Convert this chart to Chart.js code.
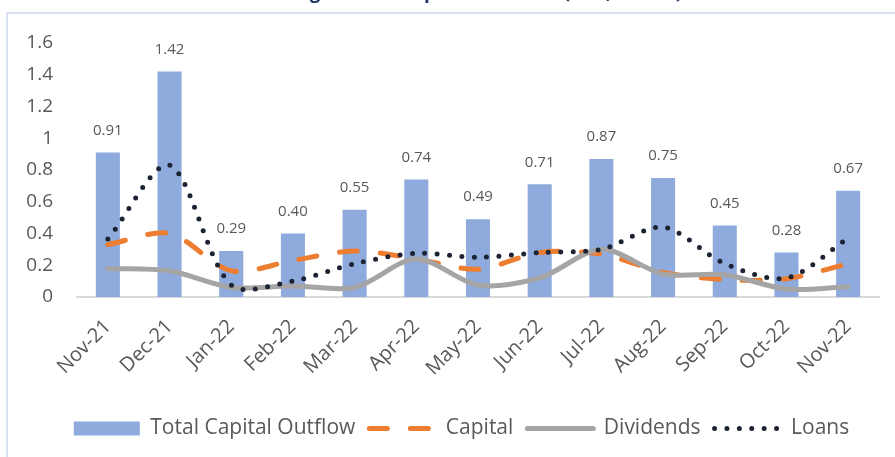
<!DOCTYPE html>
<html>
<head>
<meta charset="utf-8">
<script src="https://cdn.jsdelivr.net/npm/chart.js@4.4.0/dist/chart.umd.min.js"></script>
<style>
  body { margin: 0; background: #fff; }
</style>
</head>
<body>
<canvas id="chart-1" width="895" height="457"></canvas>
<script>
const months = ['Nov-21', 'Dec-21', 'Jan-22', 'Feb-22', 'Mar-22', 'Apr-22', 'May-22', 'Jun-22', 'Jul-22', 'Aug-22', 'Sep-22', 'Oct-22', 'Nov-22'];
const totalOutflow = [0.91, 1.42, 0.29, 0.40, 0.55, 0.74, 0.49, 0.71, 0.87, 0.75, 0.45, 0.28, 0.67];
const capital = [0.33, 0.40, 0.165, 0.23, 0.29, 0.24, 0.175, 0.28, 0.27, 0.155, 0.11, 0.115, 0.21];
const dividends = [0.18, 0.165, 0.06, 0.07, 0.06, 0.24, 0.075, 0.12, 0.30, 0.145, 0.14, 0.05, 0.065];
const loans = [0.365, 0.83, 0.075, 0.10, 0.21, 0.275, 0.25, 0.28, 0.30, 0.44, 0.21, 0.12, 0.37];
const yTicks = [0, 0.2, 0.4, 0.6, 0.8, 1, 1.2, 1.4, 1.6];
const titleText = 'Foreign Direct Capital Outflows (US$, billion)';

const font = '"Open Sans", "DejaVu Sans", sans-serif';
const grey = '#595959';

// frame + the cut-off title above it
const framePlugin = {
  id: 'frame',
  afterLayout(chart) {
    // legend sits a bit right of the canvas centre in the original
    chart.legend.left += 10;
    chart.legend.right += 10;
  },
  beforeDraw(chart) {
    const c = chart.ctx;
    c.save();
    c.fillStyle = '#dae3f3';
    c.fillRect(6, 12, chart.width - 6, 2);
    c.fillRect(6, 12, 2, chart.height - 12);
    c.fillStyle = '#203864';
    c.font = 'bold 19px ' + font;
    c.textAlign = 'center';
    c.textBaseline = 'alphabetic';
    c.fillText(titleText, 472, -2);
    c.restore();
  }
};

// value labels over the bars
const barLabels = {
  id: 'barLabels',
  afterDatasetsDraw(chart) {
    const c = chart.ctx;
    const meta = chart.getDatasetMeta(0);
    c.save();
    c.fillStyle = grey;
    c.font = '15px ' + font;
    c.textAlign = 'center';
    c.textBaseline = 'middle';
    meta.data.forEach((bar, i) => {
      c.fillText(totalOutflow[i].toFixed(2), bar.x, bar.y - 22);
    });
    c.restore();
  }
};

new Chart(document.getElementById('chart-1'), {
  type: 'bar',
  data: {
    labels: months,
    datasets: [
      {
        label: 'Total Capital Outflow',
        data: totalOutflow,
        backgroundColor: '#8faadc',
        borderWidth: 0,
        barPercentage: 0.39,
        categoryPercentage: 1,
        order: 4
      },
      {
        type: 'line',
        label: 'Capital',
        data: capital,
        borderColor: '#ed7d31',
        borderWidth: 5,
        borderDash: [18, 23],
        borderCapStyle: 'round',
        tension: 0.3,
        pointRadius: 0,
        order: 3
      },
      {
        type: 'line',
        label: 'Dividends',
        data: dividends,
        borderColor: '#a5a5a5',
        borderWidth: 5,
        borderCapStyle: 'round',
        tension: 0.3,
        pointRadius: 0,
        order: 2
      },
      {
        type: 'line',
        label: 'Loans',
        data: loans,
        borderColor: '#1c2434',
        borderWidth: 5,
        borderDash: [0, 12.4],
        borderCapStyle: 'round',
        tension: 0.3,
        pointRadius: 0,
        order: 1
      }
    ]
  },
  options: {
    responsive: false,
    animation: false,
    devicePixelRatio: 1,
    layout: { padding: { top: 43, left: 24, right: 16, bottom: 8 } },
    plugins: {
      tooltip: { enabled: false },
      legend: {
        position: 'bottom',
        labels: {
          usePointStyle: true,
          pointStyleWidth: 66,
          boxHeight: 14,
          padding: 14,
          color: grey,
          font: { family: font, size: 21 },
          generateLabels: chart => chart.data.datasets.map((ds, i) => ({
            text: ds.label,
            datasetIndex: i,
            fillStyle: ds.type === 'line' ? 'rgba(0,0,0,0)' : ds.backgroundColor,
            strokeStyle: ds.borderColor || ds.backgroundColor,
            lineWidth: ds.type === 'line' ? ds.borderWidth : 0,
            lineDash: ds.borderDash || [],
            lineCap: 'round',
            pointStyle: ds.type === 'line' ? 'line' : 'rect',
            hidden: false,
            fontColor: grey
          }))
        }
      }
    },
    scales: {
      x: {
        grid: { display: false, drawTicks: false },
        border: { display: true, color: '#d9d9d9', width: 2 },
        ticks: {
          color: grey,
          font: { family: font, size: 20 },
          minRotation: 45,
          maxRotation: 45,
          padding: 18
        },
        afterFit(scale) { scale.height = 107; }
      },
      y: {
        min: 0,
        max: 1.6,
        grid: { display: false, drawTicks: false },
        border: { display: false },
        ticks: {
          color: grey,
          font: { family: font, size: 19 },
          padding: 24,
          callback: v => String(v)
        },
        afterBuildTicks(scale) { scale.ticks = yTicks.map(v => ({ value: v })); },
        afterFit(scale) { scale.width = 53; }
      }
    }
  },
  plugins: [framePlugin, barLabels]
});
</script>
</body>
</html>
